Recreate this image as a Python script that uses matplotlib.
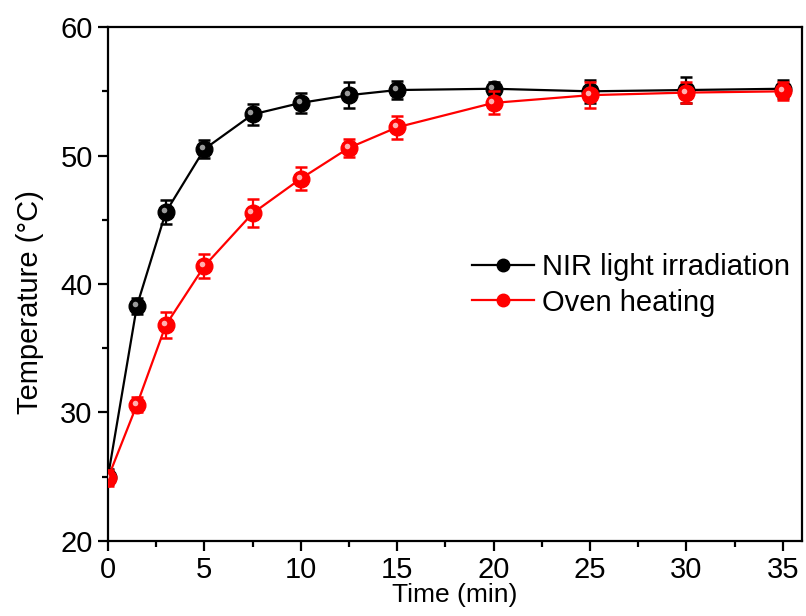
import matplotlib
matplotlib.use("Agg")
import matplotlib.pyplot as plt
from matplotlib.ticker import MultipleLocator
from matplotlib.lines import Line2D
from matplotlib.transforms import ScaledTranslation

plt.rcParams['font.family'] = ['Liberation Sans', 'DejaVu Sans']

time = [0, 1.5, 3, 5, 7.5, 10, 12.5, 15, 20, 25, 30, 35]
nir = [25.0, 38.3, 45.6, 50.5, 53.2, 54.1, 54.7, 55.1, 55.2, 55.0, 55.1, 55.2]
nir_err = [0.6, 0.6, 0.9, 0.7, 0.8, 0.8, 1.0, 0.7, 0.5, 0.9, 1.0, 0.7]
oven = [24.9, 30.6, 36.8, 41.4, 45.5, 48.2, 50.6, 52.2, 54.1, 54.7, 54.9, 55.0]
oven_err = [0.6, 0.6, 1.0, 0.9, 1.1, 0.9, 0.7, 0.9, 0.9, 1.0, 0.8, 0.7]

fig = plt.figure(figsize=(8.06, 6.16), dpi=100)
ax = fig.add_axes([0.134, 0.122, 0.861, 0.834])

ax.errorbar(time, nir, yerr=nir_err, color='black', marker='o', markersize=12,
            markerfacecolor='black', linewidth=1.6, capsize=4.5, capthick=1.8,
            elinewidth=1.6, zorder=3)
ax.errorbar(time, oven, yerr=oven_err, color='red', marker='o', markersize=12,
            markerfacecolor='red', linewidth=1.6, capsize=4.5, capthick=1.8,
            elinewidth=1.6, zorder=5)
# subtle highlight for the glossy-ball look
hl = ax.transData + ScaledTranslation(-1.5/72, 1.5/72, fig.dpi_scale_trans)
ax.plot(time, nir, 'o', ms=4, color='#9a9a9a', mec='none', transform=hl, zorder=4)
ax.plot(time, oven, 'o', ms=4, color='#ffb0b0', mec='none', transform=hl, zorder=6)

ax.set_xlim(0, 36)
ax.set_ylim(20, 60)
ax.xaxis.set_major_locator(MultipleLocator(5))
ax.xaxis.set_minor_locator(MultipleLocator(2.5))
ax.yaxis.set_major_locator(MultipleLocator(10))
ax.yaxis.set_minor_locator(MultipleLocator(5))
ax.tick_params(which='major', direction='out', length=7, width=1.6, labelsize=21, pad=4)
ax.tick_params(which='minor', direction='out', length=4, width=1.6)
for s in ax.spines.values():
    s.set_linewidth(1.6)

ax.set_xlabel('Time (min)', fontsize=19, labelpad=-1)
ax.set_ylabel('Temperature (°C)', fontsize=21)
ax.yaxis.set_label_coords(-0.092, 0.465)

handles = [
    Line2D([], [], color='black', marker='o', ms=9, lw=1.6),
    Line2D([], [], color='red', marker='o', ms=9, lw=1.6),
]
ax.legend(handles, ['NIR light irradiation', 'Oven heating'],
          loc='center left', bbox_to_anchor=(0.524, 0.498), frameon=False,
          borderpad=0, borderaxespad=0,
          fontsize=21, handlelength=2.15, handletextpad=0.25, labelspacing=0.25)

fig.savefig('out.png', dpi=100)
